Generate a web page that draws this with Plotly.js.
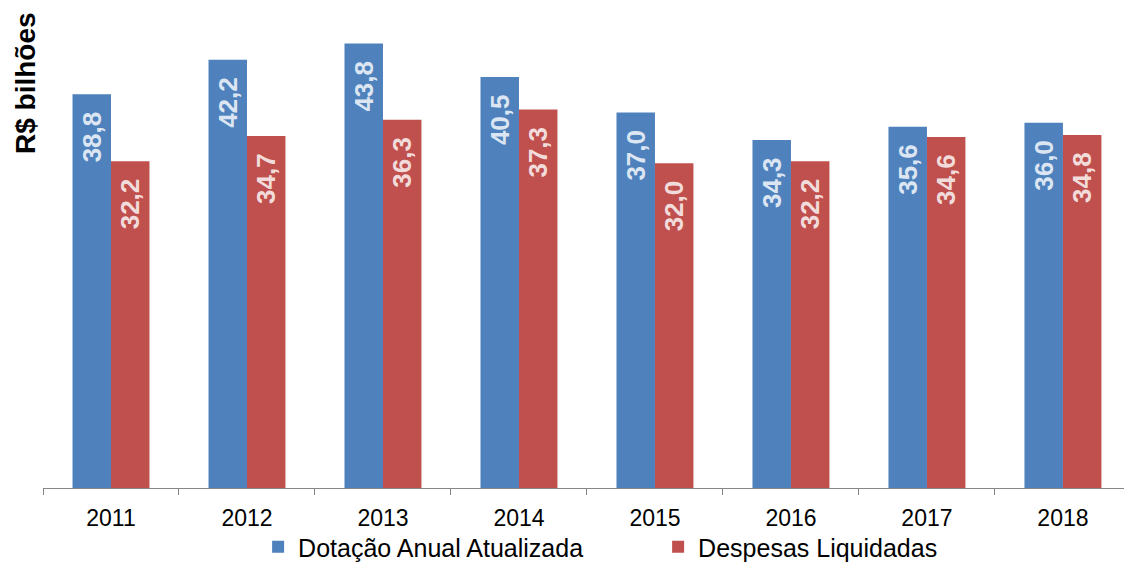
<!DOCTYPE html>
<html>
<head>
<meta charset="utf-8">
<script src="https://cdn.plot.ly/plotly-3.0.1.min.js"></script>
<style>html,body{margin:0;padding:0;background:#fff;}#chart{width:1124px;height:563px;}</style>
</head>
<body>
<div id="chart"></div>
<script>
const years = ["2011","2012","2013","2014","2015","2016","2017","2018"];
const dotacao = [38.8, 42.2, 43.8, 40.5, 37.0, 34.3, 35.6, 36.0];
const despesas = [32.2, 34.7, 36.3, 37.3, 32.0, 32.2, 34.6, 34.8];
const seriesNames = ["Dotação Anual Atualizada", "Despesas Liquidadas"];
const yTitle = "R$ bilhões";

const fmt = v => v.toFixed(1).replace(".", ",") + "\u00a0\u00a0";
const FONT = "Liberation Sans, Arial, sans-serif";

function barTrace(vals, name, color, txtColor) {
  return {
    type: "bar", x: years, y: vals, name: name,
    marker: {color: color},
    text: vals.map(fmt), textposition: "inside", insidetextanchor: "end",
    textangle: -90, constraintext: "none",
    textfont: {family: FONT, size: 26, color: txtColor, weight: "bold"},
    hoverinfo: "skip"
  };
}

const data = [
  barTrace(dotacao, seriesNames[0], "#4f81bd", "#dce6f2"),
  barTrace(despesas, seriesNames[1], "#c0504d", "#f2dcdb")
];

const layout = {
  width: 1124, height: 563,
  margin: {l: 43, r: 0, t: 5, b: 75, autoexpand: false},
  paper_bgcolor: "#ffffff", plot_bgcolor: "#ffffff",
  barmode: "group", bargap: 0.434, bargroupgap: 0,
  font: {family: FONT, color: "#000"},
  xaxis: {
    type: "category", range: [-0.5, 7.449], automargin: false,
    tickson: "boundaries", ticks: "outside", ticklen: 6, tickcolor: "#868686",
    showline: true, linecolor: "#868686", linewidth: 1,
    ticklabelstandoff: 9,
    tickfont: {family: FONT, size: 23, color: "#000"},
    showgrid: false, zeroline: false
  },
  yaxis: {
    range: [0, 47.6], showticklabels: false, ticks: "", showgrid: false,
    zeroline: false, showline: false, automargin: false
  },
  showlegend: true,
  legend: {
    orientation: "h", x: 0.199, xanchor: "left",
    yref: "container", y: 16/563, yanchor: "middle",
    font: {family: FONT, size: 25, color: "#000"},
    entrywidth: 355, entrywidthmode: "pixels",
    bgcolor: "rgba(0,0,0,0)"
  },
  annotations: [{
    text: "<b>" + yTitle + "</b>", textangle: -90,
    xref: "paper", yref: "paper", x: -18/1081, y: 1, xanchor: "center", yanchor: "top",
    yshift: -5, showarrow: false,
    font: {family: FONT, size: 28, color: "#000"}
  }]
};

Plotly.newPlot("chart", data, layout, {displayModeBar: false, staticPlot: true});
</script>
</body>
</html>
